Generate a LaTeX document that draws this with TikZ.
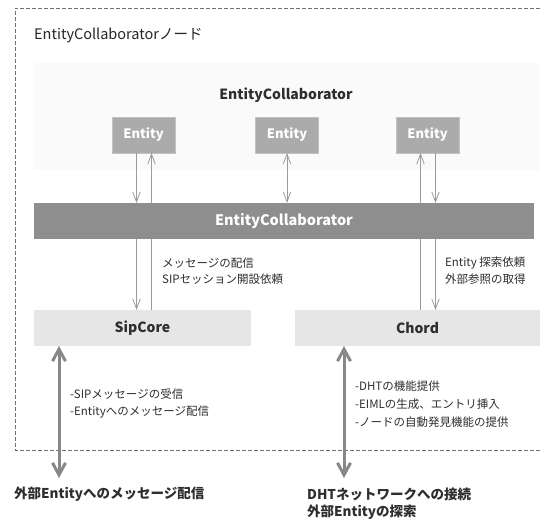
\documentclass[tikz,border=0pt]{standalone}
\usepackage{fontspec}
\setmainfont{Noto Sans CJK JP}
\usetikzlibrary{arrows.meta}
\definecolor{panelbg}{HTML}{FAFAFA}
\definecolor{entbg}{HTML}{ABABAB}
\definecolor{entbd}{HTML}{C2C2C2}
\definecolor{barbg}{HTML}{8E8E8E}
\definecolor{modbg}{HTML}{E6E6E6}
\definecolor{txt}{HTML}{2E2E2E}
\definecolor{thin}{HTML}{9A9A9A}
\definecolor{thick}{HTML}{888888}
\definecolor{frame}{HTML}{707070}
\tikzset{
  box/.style={inner sep=0pt, outer sep=0pt, anchor=center},
  entbox/.style={box, fill=entbg, draw=entbd, line width=0.6pt, minimum width=63pt, minimum height=36pt, text=white, font=\fontsize{13}{15}\selectfont\bfseries},
  modbox/.style={box, fill=modbg, minimum height=36pt, text=txt, font=\fontsize{14}{16}\selectfont\bfseries},
  thinarr/.style={draw=thin, line width=0.8pt, -{Straight Barb[length=10pt,width=7.5pt]}},
  thickarr/.style={draw=thick, line width=3pt, {Straight Barb[length=12pt,width=13pt]}-{Straight Barb[length=12pt,width=13pt]}},
  lbl/.style={inner sep=0pt, anchor=west, text=txt, font=\fontsize{11.5}{13}\selectfont},
  biglbl/.style={inner sep=0pt, anchor=west, text=txt, font=\fontsize{13.5}{16}\selectfont\bfseries},
}
\begin{document}
\begin{tikzpicture}[x=1pt,y=-1pt]
\useasboundingbox (0,0) rectangle (540,519);
% outer dashed frame
\draw[frame, line width=0.7pt, dash pattern=on 4pt off 2pt] (540,8) -- (15,8) -- (15,450) -- (540,450);
\node[lbl, text=black!85, font=\fontsize{14.5}{16}\selectfont] (title) at (34,35) {EntityCollaboratorノード};
% panel
\node[box, fill=panelbg, minimum width=506pt, minimum height=107pt] (panel) at (287,116.5) {};
\node[box, text=txt, font=\fontsize{14}{16}\selectfont\bfseries] (ectitle) at (286,95) {EntityCollaborator};
\node[entbox] (e1) at (143.5,135) {Entity};
\node[entbox] (e2) at (287,135) {Entity};
\node[entbox] (e3) at (427.5,135) {Entity};
\node[modbox, minimum width=217pt] (sip) at (142.5,328) {SipCore};
\node[modbox, minimum width=245pt] (chord) at (417.5,328) {Chord};
% through lines (behind bar)
\draw[thinarr] ([xshift=8pt]e1.south |- sip.north) -- ([xshift=8pt]e1.south);
\draw[thinarr] ([xshift=-7pt]e3.south |- chord.north) -- ([xshift=-7pt]e3.south);
% bar
\node[box, fill=barbg, minimum width=500pt, minimum height=36pt, text=white, font=\fontsize{14.5}{16}\selectfont\bfseries] (bar) at (284,221) {EntityCollaborator};
% arrows
\draw[thinarr] ([xshift=-7pt]e1.south) -- ([xshift=-7pt]e1.south |- bar.north);
\draw[thinarr] ([xshift=-7pt]e1.south |- bar.south) -- ([xshift=-7pt]e1.south |- sip.north);
\draw[thinarr, {Straight Barb[length=10pt,width=7.5pt]}-{Straight Barb[length=10pt,width=7.5pt]}] (e2.south) -- (e2.south |- bar.north);
\draw[thinarr] ([xshift=8pt]e3.south) -- ([xshift=8pt]e3.south |- bar.north);
\draw[thinarr] ([xshift=8pt]e3.south |- bar.south) -- ([xshift=8pt]e3.south |- chord.north);
% labels
\node[lbl] (l1) at (162,263) {メッセージの配信};
\node[lbl] (l2) at (162,279) {SIPセッション開設依頼};
\node[lbl] (l3) at (445,263) {Entity 探索依頼};
\node[lbl] (l4) at (445,279) {外部参照の取得};
% thick arrows
\coordinate (x1) at (59,478);
\coordinate (x2) at (344,478);
\draw[thickarr] (sip.south -| x1) -- (x1);
\draw[thickarr] (chord.south -| x2) -- (x2);
\node[lbl] (s1) at (70,394) {-SIPメッセージの受信};
\node[lbl] (s2) at (70,412) {-Entityへのメッセージ配信};
\node[lbl] (d1) at (355,386) {-DHTの機能提供};
\node[lbl] (d2) at (355,404) {-EIMLの生成、エントリ挿入};
\node[lbl] (d3) at (355,422) {-ノードの自動発見機能の提供};
\node[biglbl] (b1) at (14,494) {外部Entityへのメッセージ配信};
\node[biglbl] (b2) at (307,494) {DHTネットワークへの接続};
\node[biglbl] (b3) at (307,512) {外部Entityの探索};
\end{tikzpicture}
\end{document}
